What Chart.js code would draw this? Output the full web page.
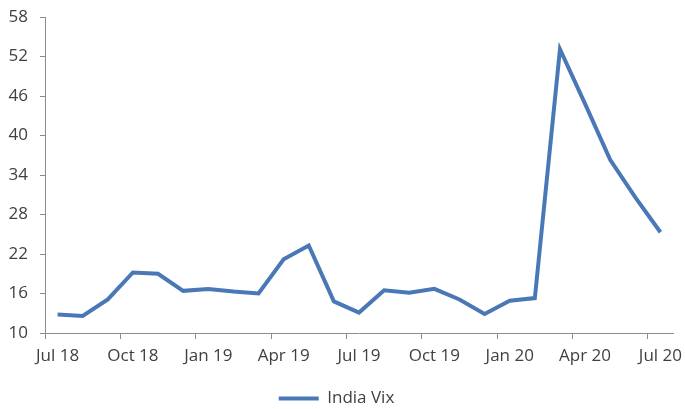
<!DOCTYPE html>
<html>
<head>
<meta charset="utf-8">
<script src="https://cdn.jsdelivr.net/npm/chart.js@4"></script>
<style>
  html, body { margin: 0; padding: 0; background: #fff; }
  #wrap { width: 685px; height: 409px; position: relative; }
</style>
</head>
<body>
<div id="wrap"><canvas id="vixChart"></canvas></div>
<script>
// Monthly categories Jul 18 .. Jul 20
const months = [
  "Jul 18", "Aug 18", "Sep 18", "Oct 18", "Nov 18", "Dec 18",
  "Jan 19", "Feb 19", "Mar 19", "Apr 19", "May 19", "Jun 19",
  "Jul 19", "Aug 19", "Sep 19", "Oct 19", "Nov 19", "Dec 19",
  "Jan 20", "Feb 20", "Mar 20", "Apr 20", "May 20", "Jun 20", "Jul 20"
];

// India Vix values
const vixValues = [
  12.8, 12.6, 15.1, 19.2, 19.0, 16.4,
  16.7, 16.3, 16.0, 21.2, 23.3, 14.8,
  13.1, 16.5, 16.1, 16.7, 15.1, 12.9,
  14.9, 15.3, 53.1, 44.8, 36.3, 30.6, 25.3
];

const yTicks = [10, 16, 22, 28, 34, 40, 46, 52, 58];

const fontFamily = "'Open Sans', sans-serif";
const textColor = "#404040";
const axisColor = "#8c8c8c";

document.addEventListener("DOMContentLoaded", function () {
  const ctx = document.getElementById("vixChart").getContext("2d");
  new Chart(ctx, {
    type: "line",
    data: {
      labels: months,
      datasets: [
        {
          label: "India Vix",
          data: vixValues,
          borderColor: "#4a78b6",
          backgroundColor: "#4a78b6",
          borderWidth: 4,
          pointRadius: 0,
          tension: 0,
        },
      ],
    },
    options: {
      responsive: true,
      maintainAspectRatio: false,
      animation: false,
      layout: {
        padding: { top: 17, right: 12, bottom: -8, left: 0 },
      },
      scales: {
        x: {
          offset: true,
          grid: {
            offset: true,
            drawOnChartArea: false,
            tickLength: 6,
            color: (c) => (c.index % 3 === 0 ? axisColor : "rgba(0,0,0,0)"),
          },
          border: { color: axisColor, width: 1 },
          ticks: {
            autoSkip: false,
            maxRotation: 0,
            padding: 7,
            color: textColor,
            font: { family: fontFamily, size: 17 },
            callback: function (value, index) {
              return index % 3 === 0 ? months[index] : "";
            },
          },
          afterFit: (scale) => {
            scale.height = 57;
            scale.paddingLeft = 0;
            scale.paddingRight = 0;
          },
        },
        y: {
          min: yTicks[0],
          max: yTicks[yTicks.length - 1],
          afterBuildTicks: (scale) => {
            scale.ticks = yTicks.map((v) => ({ value: v }));
          },
          grid: {
            drawOnChartArea: false,
            tickLength: 5,
            color: axisColor,
          },
          border: { color: axisColor, width: 1 },
          ticks: {
            padding: 12,
            color: textColor,
            font: { family: fontFamily, size: 17 },
          },
          afterFit: (scale) => {
            scale.width = 45;
            scale.paddingTop = 0;
            scale.paddingBottom = 0;
          },
        },
      },
      plugins: {
        legend: {
          position: "bottom",
          labels: {
            usePointStyle: true,
            pointStyle: "line",
            pointStyleWidth: 40,
            padding: 0,
            color: textColor,
            font: { family: fontFamily, size: 17 },
          },
        },
        tooltip: { enabled: false },
      },
    },
  });
});
</script>
</body>
</html>
